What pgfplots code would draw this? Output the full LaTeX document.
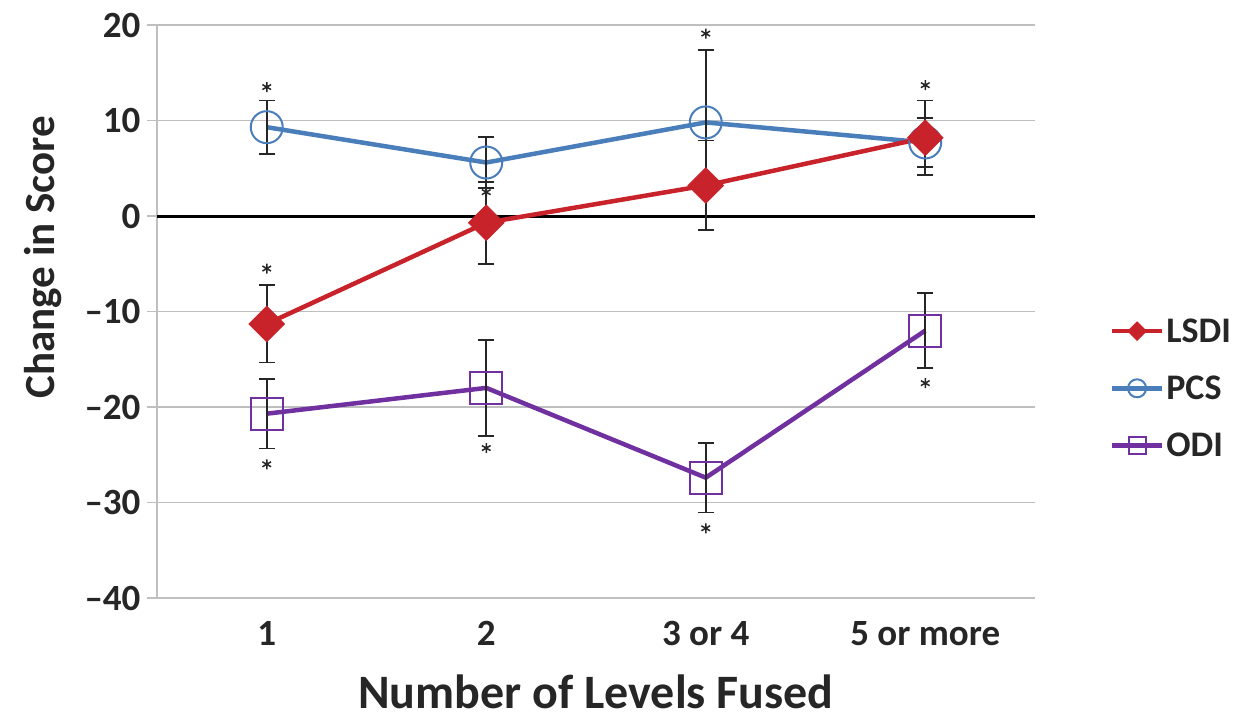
\documentclass[border=0pt]{standalone}
\usepackage{fontspec}
\setmainfont{Carlito}
\usepackage{pgfplots}
\pgfplotsset{compat=1.18}
\definecolor{lsdi}{HTML}{C8232B}
\definecolor{pcs}{HTML}{4A7EBB}
\definecolor{odi}{HTML}{7030A0}
\definecolor{gridgray}{HTML}{BFBFBF}
\definecolor{txt}{HTML}{262626}
\pgfplotstableread{
x y e
1 -11.3 4.05
2 -0.7 4.3
3 3.2 4.7
4 8.2 3.9
}\lsditab
\pgfplotstableread{
x y e
1 9.3 2.8
2 5.6 2.65
3 9.8 7.6
4 7.7 2.6
}\pcstab
\pgfplotstableread{
x y e
1 -20.7 3.65
2 -18.0 5.0
3 -27.4 3.65
4 -12.0 3.95
}\oditab
\pgfplotsset{
  lsdistyle/.style={lsdi, line width=4.5pt, mark=square*,
    mark options={rotate=45, solid, line width=1pt, fill=lsdi}},
  pcsstyle/.style={pcs, line width=4.5pt, mark=o,
    mark options={solid, line width=2pt}},
  odistyle/.style={odi, line width=4.5pt, mark=square,
    mark options={solid, line width=2pt}},
}
\begin{document}
\begin{tikzpicture}
\begin{axis}[
  scale only axis, width=878pt, height=573pt,
  xmin=0.5, xmax=4.5, ymin=-40, ymax=20,
  xtick={1,2,3,4}, xticklabels={1,2,3 or 4,5 or more},
  ytick={-40,-30,-20,-10,0,10,20},
  yticklabels={–40,–30,–20,–10,0,10,20},
  axis x line*=bottom, axis y line*=left,
  x axis line style={draw=none},
  y axis line style={gridgray, line width=1.5pt, -},
  xtick style={draw=none},
  ytick style={gridgray, line width=1.5pt},
  tick align=outside, major tick length=10pt,
  ymajorgrids, grid style={gridgray, line width=1.5pt},
  tick label style={font=\fontsize{37}{42}\selectfont\bfseries, text=txt},
  xticklabel style={yshift=-10pt},
  yticklabel style={xshift=-3pt},
  xlabel={Number of Levels Fused},
  ylabel={Change in Score},
  label style={text=txt},
  xlabel style={font=\fontsize{48}{54}\selectfont\bfseries, at={(axis description cs:0.5,-0.192)}, anchor=base},
  ylabel style={font=\fontsize{43}{48}\selectfont\bfseries, at={(axis description cs:-0.1162,0.595)}, anchor=base, rotate=0},
  legend style={at={(axis description cs:1.085,0.366)}, anchor=west, draw=none, fill=none,
    font=\fontsize{36}{40}\selectfont\bfseries, text=txt, row sep=28pt, inner sep=0pt,
    /tikz/every even column/.append style={column sep=6pt}},
  legend cell align=left,
  error bars/error bar style={txt, line width=1.8pt},
  error bars/error mark options={rotate=90, txt, mark size=8pt, line width=1.8pt},
]
\addlegendimage{lsdistyle, mark size=6.5pt, legend image code/.code={\draw[mark repeat=2, mark phase=2] plot coordinates {(0pt,0pt) (25pt,0pt) (50pt,0pt)};}}
\addlegendentry{LSDI}
\addlegendimage{pcsstyle, mark size=9pt, legend image code/.code={\draw[mark repeat=2, mark phase=2] plot coordinates {(0pt,0pt) (25pt,0pt) (50pt,0pt)};}}
\addlegendentry{PCS}
\addlegendimage{odistyle, mark size=8.5pt, legend image code/.code={\draw[mark repeat=2, mark phase=2] plot coordinates {(0pt,0pt) (25pt,0pt) (50pt,0pt)};}}
\addlegendentry{ODI}
\addplot[black, line width=3pt, forget plot] coordinates {(0.5,0) (4.5,0)};
\addplot[odistyle, mark size=16pt, forget plot,
  error bars/.cd, y dir=both, y explicit]
  table[x=x, y=y, y error=e] {\oditab};
\addplot[pcsstyle, mark size=16pt, forget plot,
  error bars/.cd, y dir=both, y explicit]
  table[x=x, y=y, y error=e] {\pcstab};
\addplot[lsdistyle, mark size=12.5pt, forget plot,
  error bars/.cd, y dir=both, y explicit]
  table[x=x, y=y, y error=e] {\lsditab};
\addplot[only marks, mark=asterisk, mark size=5pt, txt, line width=1.5pt, forget plot]
  coordinates {(1,13.5) (1,-5.5) (1,-26.0) (2,2.5) (2,-24.3) (3,19.1) (3,-32.7) (4,13.7) (4,-17.5)};
\end{axis}
\pgfresetboundingbox
\path[use as bounding box] ([xshift=-157pt,yshift=-120pt]current axis.south west) rectangle ++(1241pt,718pt);
\end{tikzpicture}
\end{document}
